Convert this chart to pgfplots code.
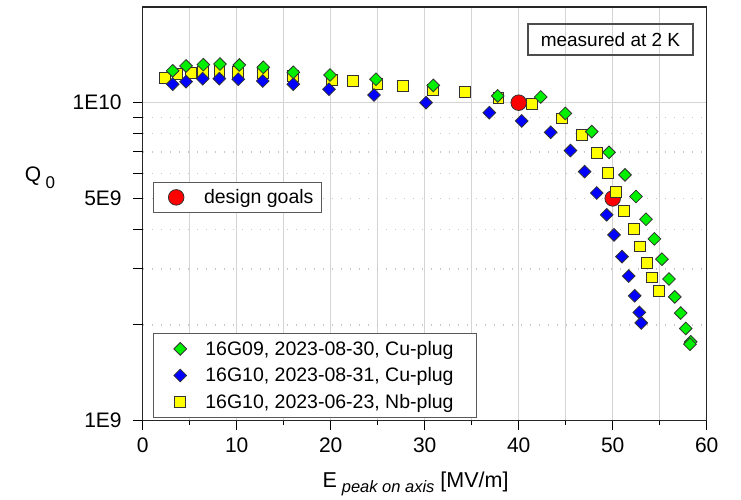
\documentclass[border=0pt]{standalone}
\usepackage{pgfplots}
\pgfplotsset{compat=1.18}
\usepackage{fontspec}
\setmainfont{Liberation Sans}

\definecolor{mgreen}{RGB}{0,240,0}
\definecolor{mblue}{RGB}{0,0,255}
\definecolor{myellow}{RGB}{255,255,0}
\definecolor{mred}{RGB}{255,0,0}
\definecolor{gridc}{RGB}{212,212,212}
\definecolor{dotc}{RGB}{200,200,200}
\definecolor{edgec}{RGB}{50,50,50}

\pgfplotsset{
  legimgA/.style={legend image code/.code={\path (-11.5pt,0pt) (31pt,0pt);
     \draw[mark repeat=2,mark phase=2,##1] plot coordinates {(0pt,0pt)(8.5pt,0pt)(17pt,0pt)};}},
  legimgB/.style={legend image code/.code={\path (-7.5pt,0pt) (33.7pt,0pt);
     \draw[mark repeat=2,mark phase=2,##1] plot coordinates {(0pt,0pt)(8.5pt,0pt)(17pt,0pt)};}},
}

\pgfplotstableread{
x y
2.37 1.196e10
3.70 1.231e10
5.11 1.243e10
6.38 1.252e10
8.15 1.258e10
10.17 1.252e10
12.77 1.237e10
15.96 1.216e10
20.11 1.179e10
22.40 1.173e10
24.96 1.145e10
27.72 1.131e10
30.85 1.096e10
34.29 1.083e10
37.83 1.038e10
41.38 9.91e9
44.57 8.93e9
46.70 7.91e9
48.36 6.96e9
49.47 6.03e9
50.35 5.23e9
51.23 4.56e9
52.27 4.00e9
52.90 3.53e9
53.62 3.14e9
54.21 2.82e9
54.94 2.56e9
}\yellowdata

\pgfplotstableread{
x y
3.19 1.143e10
4.61 1.164e10
6.38 1.190e10
8.15 1.190e10
10.17 1.185e10
12.77 1.170e10
16.02 1.143e10
19.82 1.102e10
24.61 1.057e10
30.14 1.000e10
36.87 9.30e9
40.32 8.76e9
43.40 8.07e9
45.51 7.07e9
47.02 6.07e9
48.30 5.20e9
49.36 4.44e9
50.14 3.84e9
50.99 3.28e9
51.70 2.85e9
52.34 2.47e9
52.83 2.19e9
53.04 2.03e9
}\bluedata

\pgfplotstableread{
x y
3.19 1.260e10
4.61 1.305e10
6.45 1.317e10
8.22 1.323e10
10.28 1.314e10
12.83 1.292e10
16.02 1.246e10
19.93 1.222e10
24.82 1.185e10
30.91 1.133e10
37.77 1.050e10
42.34 1.042e10
44.96 9.25e9
47.77 8.11e9
49.61 6.98e9
51.31 5.93e9
52.48 5.07e9
53.54 4.30e9
54.43 3.73e9
55.24 3.22e9
55.99 2.79e9
56.60 2.45e9
57.23 2.18e9
57.77 1.95e9
58.30 1.77e9
58.22 1.74e9
}\greendata

\begin{document}
\begin{tikzpicture}
\path (-142.7pt,-78.3pt) rectangle (598.3pt,420.7pt);
\begin{axis}[
  scale only axis, width=564pt, height=413.7pt,
  xmin=0, xmax=60, ymin=1e9, ymax=2e10, ymode=log,
  at={(0pt,0pt)}, anchor=south west,
  /pgf/number format/assume math mode=true,
  axis line style={black!85, line width=1.2pt},
  tick align=outside, xtick pos=bottom, ytick pos=left,
  major tick length=9.5pt, minor tick length=4.5pt,
  tick style={black, line width=1pt},
  xtick={0,10,...,60}, minor xtick={5,15,...,55},
  xmajorgrids, xminorgrids,
  major grid style={gridc, line width=1.4pt},
  minor grid style={gridc, line width=1.4pt},
  ytick={1e9,1e10}, yticklabels={1E9,1E10},
  ymajorgrids,
  extra y ticks={2e9,3e9,4e9,5e9,6e9,7e9,8e9,9e9},
  extra y tick labels={{},{},{},5E9,{},{},{},{}},
  extra y tick style={ymajorgrids=true, xmajorgrids=false,
     major grid style={dotc, line width=1.4pt, dash pattern=on 1.4pt off 7.6pt}},
  tick label style={font=\fontsize{21}{25}\selectfont},
  xticklabel style={yshift=-4pt},
  yticklabel style={xshift=-8pt},
  xlabel={E\hspace{5pt}\raisebox{-4.5pt}{\fontsize{16.5}{19}\selectfont\itshape peak on axis} [MV/m]},
  xlabel style={at={(axis description cs:0.3185,-0.162)}, anchor=base west, inner sep=0pt, font=\fontsize{21.5}{25}\selectfont},
  ylabel={Q\hspace{4.5pt}\raisebox{-7pt}{\fontsize{17}{19}\selectfont 0}},
  ylabel style={at={(axis description cs:-0.2092,0.577)}, anchor=base west, inner sep=0pt, rotate=-90, font=\fontsize{21}{25}\selectfont},
  legend style={at={(0.0183,0.577)}, anchor=north west, draw=black!65, line width=1.2pt,
     font=\fontsize{19.5}{23}\selectfont, inner xsep=6pt, inner ysep=5pt},
  legend cell align=left,
]
\addplot[only marks, mark=*, mark size=7.8pt, mark options={fill=mred, draw=edgec, line width=0.8pt}, legimgB] coordinates {(40,1e10) (50,5e9)};
\addlegendentry{design goals}
\node[draw=black!70, line width=1.3pt, minimum width=165pt, minimum height=31pt, inner sep=0pt,
      font=\fontsize{19}{23}\selectfont] at (axis description cs:0.8294,0.9214) {measured at 2 K};
\end{axis}
\begin{axis}[
  scale only axis, width=564pt, height=413.7pt,
  xmin=0, xmax=60, ymin=1e9, ymax=2e10, ymode=log,
  at={(0pt,0pt)}, anchor=south west,
  hide axis,
  legend style={at={(0.0183,0.212)}, anchor=north west, draw=black!65, line width=1.2pt,
     font=\fontsize{19.5}{23}\selectfont, inner xsep=6pt, inner ysep=5.5pt, row sep=7pt},
  legend cell align=left, reverse legend,
]
\addplot[only marks, mark=square*, mark size=5.4pt, mark options={fill=myellow, draw=edgec, line width=0.8pt}, legimgA] table[x=x,y=y] {\yellowdata};
\addlegendentry{16G10, 2023-06-23, Nb-plug\kern15pt}
\addplot[only marks, mark=square*, mark size=4.5pt, mark options={rotate=45, fill=mblue, draw=edgec, line width=0.8pt}, legimgA] table[x=x,y=y] {\bluedata};
\addlegendentry{16G10, 2023-08-31, Cu-plug\kern15pt}
\addplot[only marks, mark=square*, mark size=4.5pt, mark options={rotate=45, fill=mgreen, draw=edgec, line width=0.8pt}, legimgA] table[x=x,y=y] {\greendata};
\addlegendentry{16G09, 2023-08-30, Cu-plug\kern15pt}
\end{axis}
\end{tikzpicture}
\end{document}
